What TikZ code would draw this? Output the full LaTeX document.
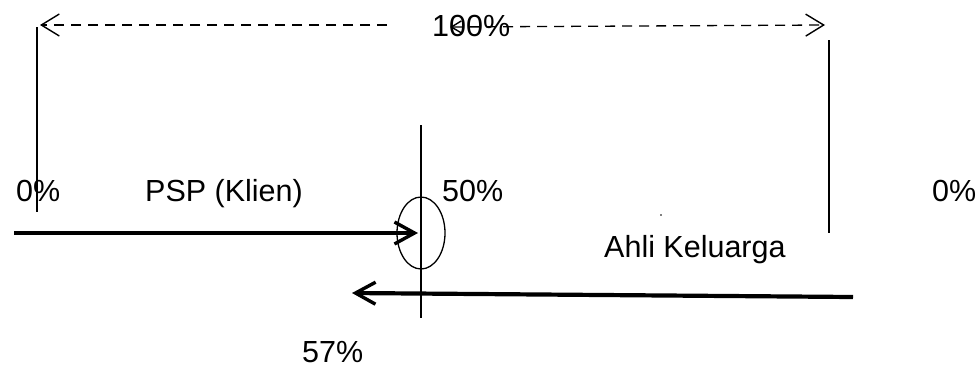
\documentclass[tikz,border=0pt]{standalone}
\usepackage{fontspec}
\setmainfont{Liberation Sans}
\usetikzlibrary{arrows.meta,shapes.geometric}
\begin{document}
\begin{tikzpicture}[x=1pt,y=-1pt,
  lbl/.style={inner sep=0pt,anchor=base west,font=\fontsize{30.5}{36}\selectfont},
  thin line/.style={line width=1.3pt},
  dash line/.style={line width=1.3pt,dash pattern=on 10pt off 7pt},
  bigarrow/.style={line width=3.6pt,-{Straight Barb[length=20pt,width=22pt,line width=3.4pt]}},
  toptip/.style={-{Straight Barb[length=18pt,width=22pt,line width=1.4pt]}}
]
\useasboundingbox (0,0) rectangle (980,368);
% vertical lines
\coordinate (lt) at (37,27);  \coordinate (lb) at (37,212);
\coordinate (rt) at (829,40); \coordinate (rb) at (829,233);
\coordinate (ct) at (421,125); \coordinate (cb) at (421,318);
\draw[thin line] (lt) -- (lb);
\draw[thin line] (rt) -- (rb);
\draw[thin line] (ct) -- (cb);
% ellipse
\node[draw,thin line,ellipse,minimum width=48pt,minimum height=72pt,inner sep=0pt] (ell) at (421,233) {};
% top dashed arrows
\coordinate (dl1) at (387,25); \coordinate (dl2) at (40,25);
\coordinate (dr1) at (450,27); \coordinate (dr2) at (825,25);
\draw[dash line,toptip] (dl1) -- (dl2);
\draw[dash line,{Straight Barb[length=10pt,width=12pt,line width=1.4pt]}-{Straight Barb[length=18pt,width=22pt,line width=1.4pt]}] (dr1) -- (dr2);
% texts
\node[lbl] (t100) at (432,36) {100\%};
\node[lbl] (z1) at (16,201) {0\%};
\node[lbl] (psp) at (145,201) {PSP (Klien)};
\node[lbl] (f50) at (442,201) {50\%};
\node[lbl] (z2) at (932,201) {0\%};
\node[lbl] (ahli) at (604,257) {Ahli Keluarga};
\node[lbl] (f57) at (302,362) {57\%};
% small dot
\fill (661,215) circle (0.9pt);
% thick arrows
\coordinate (a1s) at (14,233); \coordinate (a1e) at (418,233);
\coordinate (a2s) at (853,297); \coordinate (a2e) at (352,293);
\draw[bigarrow] (a1s) -- (a1e);
\draw[bigarrow,line width=4.2pt] (a2s) -- (a2e);
\end{tikzpicture}
\end{document}
